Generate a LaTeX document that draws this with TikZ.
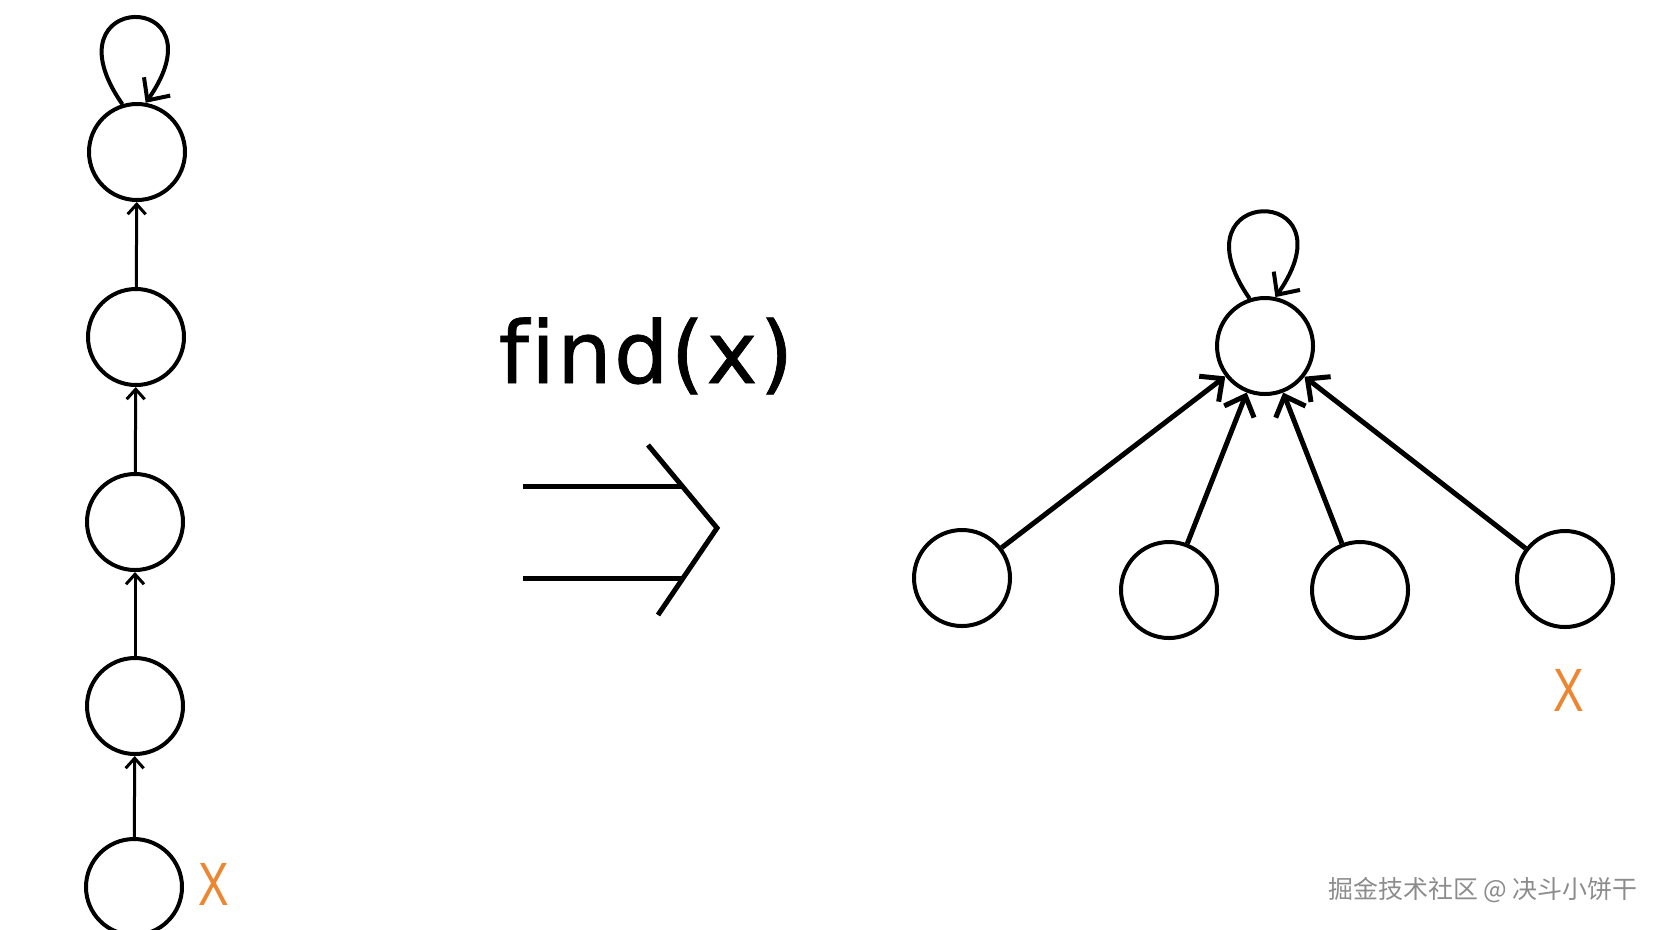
\documentclass[tikz,border=0pt]{standalone}
\usepackage{fontspec}
\setmainfont{DejaVu Sans}[Ligatures=NoCommon,LetterSpace=2.5,FakeBold=0.8]
\newfontfamily\cjkfont{Noto Sans CJK SC}
\newfontfamily\xfont{Liberation Sans}
\usetikzlibrary{arrows.meta}
\definecolor{xorange}{RGB}{236,134,48}
\definecolor{markgray}{RGB}{140,140,140}

\begin{document}
\begin{tikzpicture}[>={Straight Barb[length=1.7mm,width=3.2mm]},
  dot/.style={circle,draw,line width=0.4mm,minimum size=0.96cm,inner sep=0pt},
  chain/.style={->,line width=0.3mm,>={Straight Barb[length=1mm,width=1.8mm]}},
  link/.style={->,line width=0.5mm},
  xtag/.style={text=xorange,font=\xfont\fontsize{17.4}{18}\selectfont}]
\clip (0,0) rectangle (16.64,-9.29);
\node[dot] (a1) at (1.37,-1.52) {};
\node[dot] (a2) at (1.36,-3.37) {};
\node[dot] (a3) at (1.35,-5.22) {};
\node[dot] (a4) at (1.35,-7.06) {};
\node[dot] (a5) at (1.34,-8.87) {};
\draw[chain] (a5) -- (a4);
\draw[chain] (a4) -- (a3);
\draw[chain] (a3) -- (a2);
\draw[chain] (a2) -- (a1);
\draw[->,line width=0.4mm] (a1.107) to[out=125,in=55,distance=1.4cm] (a1.80);
\node[xtag] (xa) at (2.14,-8.84) {\scalebox{0.75}[1]{X}};
\node[anchor=base,font=\fontsize{24.5}{26}\selectfont] (f) at (6.46,-3.83) {find(x)};
\draw[line width=0.5mm] (5.23,-4.86) -- (6.82,-4.86);
\draw[line width=0.5mm] (5.23,-5.78) -- (6.83,-5.78);
\draw[line width=0.5mm] (6.48,-4.45) -- (7.17,-5.28) -- (6.58,-6.15);
\node[dot] (r) at (12.65,-3.46) {};
\node[dot] (b1) at (9.62,-5.78) {};
\node[dot] (b2) at (11.69,-5.90) {};
\node[dot] (b3) at (13.60,-5.90) {};
\node[dot] (b4) at (15.65,-5.79) {};
\draw[link] (b1) -- (r);
\draw[link] (b2) -- (r);
\draw[link] (b3) -- (r);
\draw[link] (b4) -- (r);
\draw[->,line width=0.4mm] (r.108) to[out=125,in=55,distance=1.4cm] (r.78);
\node[xtag] (xb) at (15.69,-6.90) {\scalebox{0.75}[1]{X}};
\node[text=markgray,font=\cjkfont\fontsize{7.1}{9}\selectfont] (wm) at (14.83,-8.90) {掘金技术社区 @ 决斗小饼干};
\end{tikzpicture}
\end{document}
